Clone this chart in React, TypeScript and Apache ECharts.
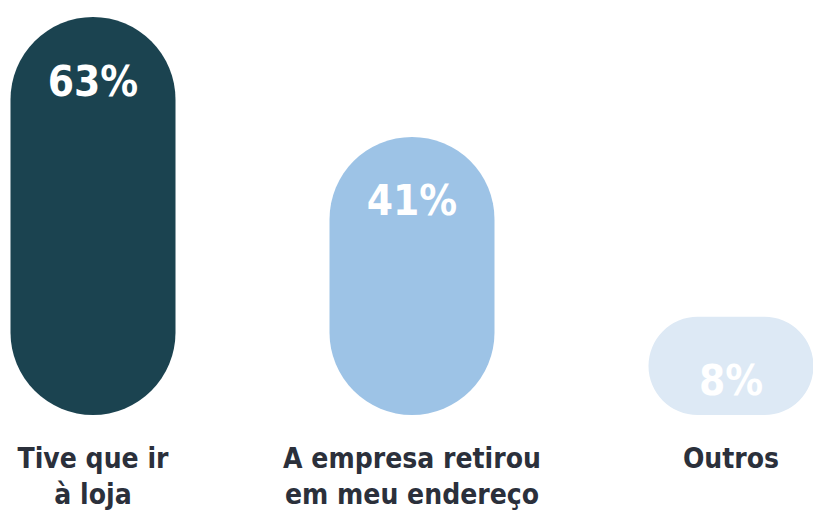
import React, { useEffect, useRef } from "react";
import * as echarts from "echarts";

const categories = ["Tive que ir\nà loja", "A empresa retirou\nem meu endereço", "Outros"];
const values = [63, 41, 8];
const barColors = ["#1b4350", "#9dc3e6", "#dde9f5"];

const Y_MIN = -10;
const FONT = "'DejaVu Sans Condensed', 'Liberation Sans Narrow', sans-serif";

export default function App() {
  const ref = useRef<HTMLDivElement>(null);
  useEffect(() => {
    if (!ref.current) return;
    const chart = echarts.init(ref.current, undefined, { renderer: "svg" });
    chart.setOption({
      animation: false,
      grid: { left: 93, right: 82, top: 17, bottom: 104, containLabel: false },
      xAxis: {
        type: "category",
        data: categories,
        boundaryGap: false,
        axisLine: { show: false },
        axisTick: { show: false },
        splitLine: { show: false },
        axisLabel: {
          interval: 0,
          margin: 25,
          color: "#2b303b",
          fontSize: 28,
          fontWeight: "bold",
          fontFamily: FONT,
          lineHeight: 36,
        },
      },
      yAxis: { type: "value", min: Y_MIN, max: 63, show: false, splitLine: { show: false } },
      series: [
        {
          type: "custom",
          data: values.map((v, i) => [i, v]),
          renderItem: (params: any, api: any) => {
            const i = api.value(0);
            const v = api.value(1);
            const top = api.coord([i, v]);
            const bottom = api.coord([i, Y_MIN]);
            const w = 165;
            const h = bottom[1] - top[1];
            const r = Math.min(w / 2, h / 2);
            return {
              type: "group",
              children: [
                {
                  type: "rect",
                  shape: { x: top[0] - w / 2, y: top[1], width: w, height: h, r },
                  style: { fill: barColors[params.dataIndex] },
                },
                {
                  type: "text",
                  x: top[0],
                  y: top[1] + 64,
                  style: {
                    text: v + "%",
                    fill: "#ffffff",
                    font: `bold 42px ${FONT}`,
                    textAlign: "center",
                    textVerticalAlign: "middle",
                  },
                },
              ],
            };
          },
        },
      ],
    });
    return () => chart.dispose();
  }, []);
  return <div ref={ref} style={{ width: 813, height: 519, position: "absolute", left: 0, top: 0 }} />;
}
